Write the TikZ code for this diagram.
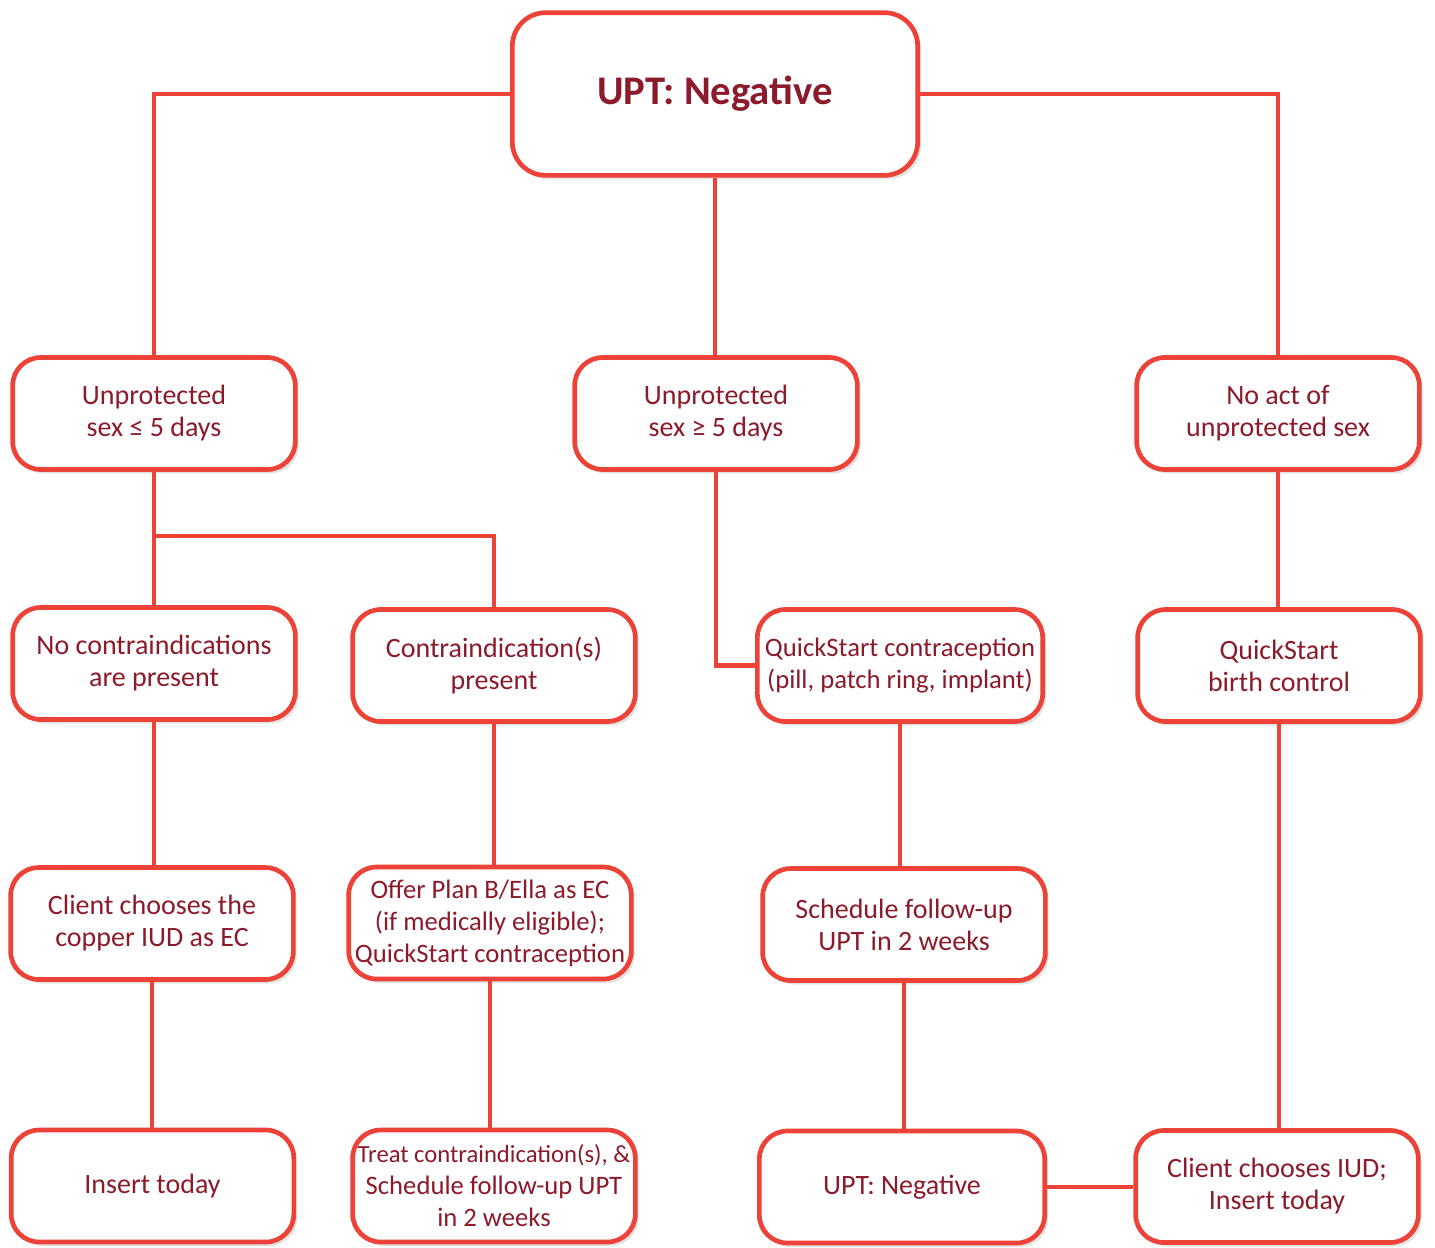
\documentclass[tikz,border=0pt]{standalone}
\usepackage{fontspec}
\setmainfont{Carlito}
\usetikzlibrary{shadows}
\definecolor{lred}{HTML}{EC4237}
\definecolor{tred}{HTML}{8C1A2A}
\tikzset{
  box/.style={draw=lred, line width=3.5pt, fill=white, rounded corners=21pt,
    align=center, text=tred, inner sep=0pt,
    font=\fontsize{21}{24}\selectfont,
    minimum width=212pt, minimum height=84pt,
    drop shadow={opacity=0.22, shadow xshift=2.5pt, shadow yshift=-3pt}},
  tight/.style={font=\fontsize{20}{24}\selectfont},
  conn/.style={draw=lred, line width=3.5pt}
}
\begin{document}
\begin{tikzpicture}[x=0.75pt,y=-0.75pt]
\useasboundingbox (0,0) rectangle (1435,1247);
\node[box, minimum width=304pt, minimum height=122pt, rounded corners=25pt,
  font=\fontsize{30.5}{32}\selectfont\bfseries] (top) at (715,94) {UPT: Negative};
\node[box] (a) at (154,413.5) {Unprotected\\sex ≤ 5 days};
\node[box] (b) at (716,413.5) {Unprotected\\sex ≥ 5 days};
\node[box] (c) at (1278,413.5) {No act of\\unprotected sex};
\node[box] (d) at (154,663.5) {No contraindications\\are present};
\node[box] (e) at (494,665.5) {Contraindication(s)\\present};
\node[box, tight, minimum width=214pt] (f) at (900,665.5) {QuickStart contraception\\(pill, patch ring, implant)};
\node[box] (g) at (1279,665.5) {QuickStart\\birth control};
\node[box] (h) at (152,923.5) {Client chooses the\\copper IUD as EC};
\node[box, tight] (i) at (490,923) {Offer Plan B/Ella as EC\\(if medically eligible);\\QuickStart contraception};
\node[box] (j) at (904,924.5) {Schedule follow-up\\UPT in 2 weeks};
\node[box] (k) at (152.5,1186) {Insert today};
\node[box, tight] (l) at (494,1186) {{\fontsize{18.5}{24}\selectfont Treat contraindication(s), \&}\\Schedule follow-up UPT\\in 2 weeks};
\node[box, minimum width=214pt] (m) at (902,1187) {UPT: Negative};
\node[box] (n) at (1277,1186.5) {Client chooses IUD;\\Insert today};
\coordinate (ab) at (154,536);
\draw[conn] (top.west) -| (a.north);
\draw[conn] (top.south) -- (top.south |- b.north);
\draw[conn] (top.east) -| (c.north);
\draw[conn] (a.south) -- (d.north);
\draw[conn] (ab) -| (e.north);
\draw[conn] (b.south) |- (f.west);
\draw[conn] (c.south) -- (c.south |- g.north);
\draw[conn] (d.south) -- (d.south |- h.north);
\draw[conn] (e.south) -- (e.south |- i.north);
\draw[conn] (f.south) -- (f.south |- j.north);
\draw[conn] (g.south) -- (g.south |- n.north);
\draw[conn] (h.south) -- (h.south |- k.north);
\draw[conn] (i.south) -- (i.south |- l.north);
\draw[conn] (j.south) -- (j.south |- m.north);
\draw[conn] (m.east) -- (m.east -| n.west);
\end{tikzpicture}
\end{document}
